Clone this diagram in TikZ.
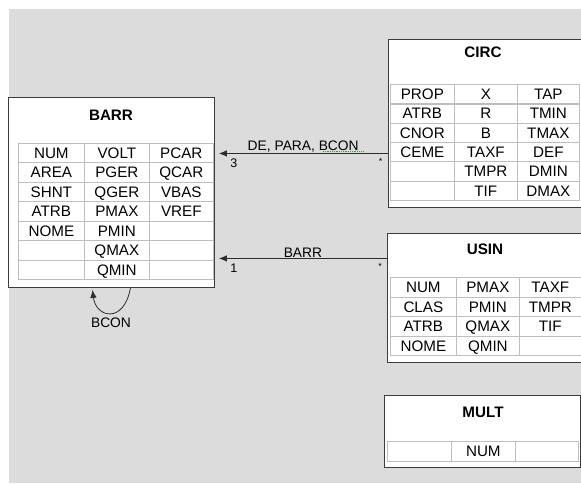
\documentclass[tikz,border=0pt]{standalone}
\usepackage{fontspec}
\setmainfont{Liberation Sans}
\usetikzlibrary{arrows.meta}

\definecolor{bgGray}{RGB}{220,220,220}
\definecolor{boxLine}{RGB}{60,60,60}
\definecolor{cellLine}{RGB}{190,190,190}
\definecolor{lineDark}{RGB}{45,45,45}
\definecolor{spellGreen}{RGB}{60,160,60}

\tikzset{
  classbox/.style={draw=boxLine, fill=white, line width=0.9pt, inner sep=0pt, anchor=north west},
  cell/.style={draw=cellLine, line width=0.7pt, minimum height=19.5pt, inner sep=0pt,
    text height=10.8pt, text depth=0pt,
    anchor=north west, font=\fontsize{15.2}{17}\selectfont},
  classtitle/.style={font=\fontsize{15.2}{17}\selectfont\bfseries},
  assoc/.style={draw=lineDark, line width=0.8pt, -{Latex[length=8pt,width=6.5pt]}},
  assoclabel/.style={font=\fontsize{13.8}{15}\selectfont, inner sep=1pt},
  mult/.style={font=\fontsize{12.5}{14}\selectfont, inner sep=0pt},
}

\begin{document}
\begin{tikzpicture}[x=1pt,y=-1pt]

  % pixel grid: (0,0) top left, y grows downwards
  \useasboundingbox (0,0) rectangle (581,483);
  \fill[bgGray] (9,9) rectangle (581,483);

  % ---- (1) BARR ----
  \node[classbox, minimum width=206pt, minimum height=190pt] (barr) at (7.5,97) {};
  \node[classtitle] (barr-title) at (111,115) {BARR};
  \foreach \a/\b/\c [count=\r from 0] in {NUM/VOLT/PCAR, AREA/PGER/QCAR,
      SHNT/QGER/VBAS, ATRB/PMAX/VREF, NOME/PMIN/, /QMAX/, /QMIN/} {
    \node[cell, minimum width=66pt] (barr-\r-a) at (18,142.5+19.5*\r) {\a};
    \node[cell, minimum width=65pt] (barr-\r-b) at (84,142.5+19.5*\r) {\b};
    \node[cell, minimum width=64pt] (barr-\r-c) at (149,142.5+19.5*\r) {\c};
  }

  % ---- (2) CIRC ----
  \node[classbox, minimum width=193pt, minimum height=168pt] (circ) at (387.5,39) {};
  \node[classtitle] (circ-title) at (483,52) {CIRC};
  \foreach \a/\b/\c [count=\r from 0] in {PROP/X/TAP, ATRB/R/TMIN, CNOR/B/TMAX,
      CEME/TAXF/DEF, /TMPR/DMIN, /TIF/DMAX} {
    \node[cell, minimum width=64pt] (circ-\r-a) at (390,84+19.3*\r) {\a};
    \node[cell, minimum width=63pt] (circ-\r-b) at (454,84+19.3*\r) {\b};
    \node[cell, minimum width=62pt] (circ-\r-c) at (517,84+19.3*\r) {\c};
  }

  % ---- (3) USIN ----
  \node[classbox, minimum width=194pt, minimum height=129pt] (usin) at (387,233) {};
  \node[classtitle] (usin-title) at (485,249) {USIN};
  \foreach \a/\b/\c [count=\r from 0] in {NUM/PMAX/TAXF, CLAS/PMIN/TMPR,
      ATRB/QMAX/TIF, NOME/QMIN/} {
    \node[cell, minimum width=66pt] (usin-\r-a) at (390,277+19.5*\r) {\a};
    \node[cell, minimum width=63pt] (usin-\r-b) at (456,277+19.5*\r) {\b};
    \node[cell, minimum width=62pt] (usin-\r-c) at (519,277+19.5*\r) {\c};
  }

  % ---- (4) MULT ----
  \node[classbox, minimum width=196pt, minimum height=72pt] (mult) at (384,395) {};
  \node[classtitle] (mult-title) at (483,412) {MULT};
  \node[cell, minimum width=64pt] (mult-0-a) at (387,441) {};
  \node[cell, minimum width=64pt] (mult-0-b) at (451,441) {NUM};
  \node[cell, minimum width=63pt] (mult-0-c) at (515,441) {};

  % ---- associations ----
  \draw[assoc] ([yshift=-30pt]circ.west) -- ([xshift=4.5pt,yshift=39pt]barr.east)
    node[assoclabel, midway, above] (lbl-circ) {DE, PARA, BCON}
    node[mult, pos=1, xshift=15pt, yshift=-10pt] (m-circ-barr) {3}
    node[mult, pos=0, xshift=-7pt, yshift=-8pt] (m-circ-circ) {\small *};
  % spell-check mark under BCON
  \draw[spellGreen, densely dotted, line width=0.8pt] (323,151.5) -- (363,151.5);

  \draw[assoc] ([yshift=39.5pt]usin.west) -- ([xshift=4.5pt,yshift=-66pt]barr.east)
    node[assoclabel, midway, above] (lbl-usin) {BARR}
    node[mult, pos=1, xshift=15pt, yshift=-10pt] (m-usin-barr) {1}
    node[mult, pos=0, xshift=-7pt, yshift=-8pt] (m-usin-usin) {\small *};

  % ---- self association BCON ----
  \coordinate (loop-out) at ([xshift=19.5pt]barr.south);
  \coordinate (loop-in) at ([xshift=-18.5pt,yshift=-2pt]barr.south);
  \draw[assoc] (loop-out) .. controls (124,324) and (96,318) .. (loop-in);
  \node[assoclabel] (lbl-bcon) at (111,323) {BCON};

\end{tikzpicture}
\end{document}
